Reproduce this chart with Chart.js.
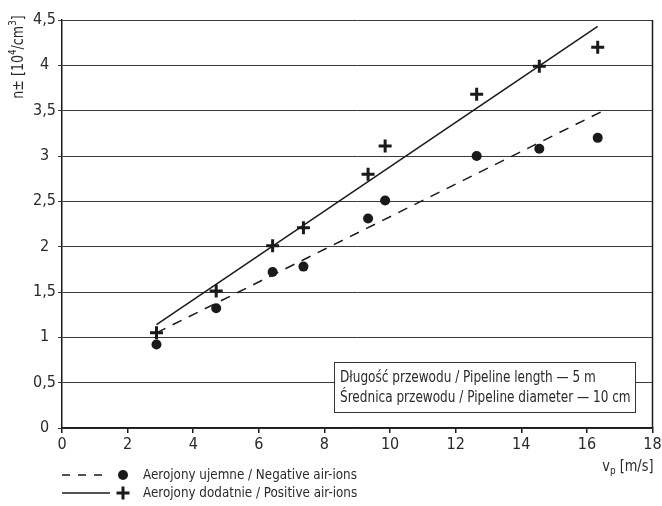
<!DOCTYPE html>
<html><head><meta charset="utf-8">
<script src="https://cdn.jsdelivr.net/npm/chart.js@4.4.1/dist/chart.umd.min.js"></script>
<style>html,body{margin:0;padding:0;background:#fff}#wrap{width:662px;height:506px}</style>
</head><body><div id="wrap"><canvas id="c" width="662" height="506"></canvas></div>
<script>
// ---- data ----
const speed        = [2.88, 4.70, 6.42, 7.36, 9.33, 9.85, 12.64, 14.55, 16.33];
const positiveIons = [1.05, 1.51, 2.01, 2.21, 2.80, 3.11, 3.68, 3.99, 4.20];
const negativeIons = [0.92, 1.32, 1.72, 1.78, 2.31, 2.51, 3.00, 3.08, 3.20];
const positiveFitX = [2.88, 16.33];
const positiveFitY = [1.14, 4.43];
const negativeFitX = [2.88, 16.45];
const negativeFitY = [1.05, 3.49];
const xTicks       = [0, 2, 4, 6, 8, 10, 12, 14, 16, 18];
const yTicks       = [0, 0.5, 1, 1.5, 2, 2.5, 3, 3.5, 4, 4.5];
const yTickLabels  = ['0', '0,5', '1', '1,5', '2', '2,5', '3', '3,5', '4', '4,5'];
const legendLabels = ['Aerojony ujemne / Negative air-ions', 'Aerojony dodatnie / Positive air-ions'];
const noteLines    = ['Długość przewodu / Pipeline length — 5 m', 'Średnica przewodu / Pipeline diameter — 10 cm'];

const FONT = "'Liberation Sans Narrow', 'DejaVu Sans Condensed', Roboto, sans-serif";
const INK = '#1a1a1a';
const TXT = '#2a2a2a';

const pts = (xs, ys) => xs.map((x, i) => ({x: x, y: ys[i]}));

// draw a run of [text, size, dy] pieces, horizontally condensed by sx
function drawRuns(ctx, runs, x, y, sx, align) {
  ctx.save();
  ctx.textAlign = 'left'; ctx.textBaseline = 'middle'; ctx.fillStyle = TXT;
  let w = 0;
  runs.forEach(p => { ctx.font = p[1] + 'px ' + FONT; w += ctx.measureText(p[0]).width; });
  ctx.translate(x, y);
  ctx.scale(sx, 1);
  let cx = align === 'right' ? -w : (align === 'center' ? -w / 2 : 0);
  runs.forEach(p => { ctx.font = p[1] + 'px ' + FONT; ctx.fillText(p[0], cx, p[2]); cx += ctx.measureText(p[0]).width; });
  ctx.restore();
}

const extras = {
  id: 'extras',
  afterDraw(chart) {
    const ctx = chart.ctx, a = chart.chartArea;
    ctx.save();
    // right frame line
    ctx.strokeStyle = INK; ctx.lineWidth = 1.5;
    ctx.beginPath(); ctx.moveTo(a.right, a.top); ctx.lineTo(a.right, a.bottom); ctx.stroke();

    // note box
    const bx = a.left + 272, by = a.top + 342, bw = 301, bh = 50;
    ctx.fillStyle = '#fff';
    ctx.fillRect(bx, by, bw, bh);
    ctx.strokeStyle = '#333'; ctx.lineWidth = 1;
    ctx.strokeRect(bx + 0.5, by + 0.5, bw, bh);
    drawRuns(ctx, [[noteLines[0], 16, 0]], bx + 6, by + 16, 0.84, 'left');
    drawRuns(ctx, [[noteLines[1], 16, 0]], bx + 6, by + 36, 0.84, 'left');

    // y title: n± [10^4/cm^3]
    ctx.save();
    ctx.translate(19, 57); ctx.rotate(-Math.PI / 2);
    drawRuns(ctx, [['n±', 16, 0], [' [10', 16, 0], ['4', 11, -6], ['/cm', 16, 0], ['3', 11, -6], [']', 16, 0]], 0, 0, 0.88, 'center');
    ctx.restore();

    // x title: v_p [m/s]
    drawRuns(ctx, [['v', 16, 0], ['p', 11, 4], [' [m/s]', 16, 0]], a.right + 1, 467, 0.9, 'right');

    // legend
    const rows = [475, 493];
    const dsNeg = chart.data.datasets[2], dsPos = chart.data.datasets[3];
    ctx.strokeStyle = INK; ctx.lineWidth = 1.5;
    ctx.setLineDash([8, 8]);
    ctx.beginPath(); ctx.moveTo(a.left, rows[0]); ctx.lineTo(a.left + 48, rows[0]); ctx.stroke();
    ctx.setLineDash([]);
    ctx.beginPath(); ctx.moveTo(a.left, rows[1]); ctx.lineTo(a.left + 48, rows[1]); ctx.stroke();
    ctx.fillStyle = INK;
    ctx.beginPath(); ctx.arc(a.left + 61, rows[0], dsNeg.pointRadius, 0, Math.PI * 2); ctx.fill();
    ctx.lineWidth = dsPos.pointBorderWidth;
    const r = dsPos.pointRadius;
    ctx.beginPath();
    ctx.moveTo(a.left + 61 - r, rows[1]); ctx.lineTo(a.left + 61 + r, rows[1]);
    ctx.moveTo(a.left + 61, rows[1] - r); ctx.lineTo(a.left + 61, rows[1] + r);
    ctx.stroke();
    drawRuns(ctx, [[legendLabels[0], 14, 0]], a.left + 81, rows[0], 0.95, 'left');
    drawRuns(ctx, [[legendLabels[1], 14, 0]], a.left + 81, rows[1], 0.95, 'left');
    ctx.restore();
  }
};

new Chart(document.getElementById('c'), {
  type: 'scatter',
  data: {
    datasets: [
      { label: 'fit-neg', data: pts(negativeFitX, negativeFitY), showLine: true, borderColor: INK, borderWidth: 1.5,
        borderDash: [10, 8], pointRadius: 0, fill: false, order: 2 },
      { label: 'fit-pos', data: pts(positiveFitX, positiveFitY), showLine: true, borderColor: INK, borderWidth: 1.5,
        pointRadius: 0, fill: false, order: 2 },
      { label: legendLabels[0], data: pts(speed, negativeIons), pointStyle: 'circle', pointRadius: 5,
        backgroundColor: INK, borderColor: INK, pointBorderWidth: 0, order: 1 },
      { label: legendLabels[1], data: pts(speed, positiveIons), pointStyle: 'cross', pointRadius: 6.5,
        borderColor: INK, backgroundColor: INK, pointBorderWidth: 3, order: 1 }
    ]
  },
  options: {
    responsive: false, animation: false, devicePixelRatio: 1,
    layout: { padding: { top: 20, right: 6, left: 0, bottom: 0 } },
    plugins: { legend: { display: false }, tooltip: { enabled: false } },
    scales: {
      x: {
        type: 'linear', min: 0, max: 18,
        afterBuildTicks: s => { s.ticks = xTicks.map(v => ({value: v})); },
        afterFit: s => { s.height = 78; s.paddingLeft = 0; s.paddingRight = 0; },
        grid: { drawOnChartArea: false, drawTicks: true, tickLength: 5, color: INK, lineWidth: 1.5 },
        border: { display: true, color: INK, width: 1.5 },
        ticks: { color: TXT, font: { family: FONT, size: 16 }, padding: 2, maxRotation: 0,
                 callback: (v, i) => String(xTicks[i]) }
      },
      y: {
        type: 'linear', min: 0, max: 4.5,
        afterBuildTicks: s => { s.ticks = yTicks.map(v => ({value: v})); },
        afterFit: s => { s.width = 62; s.paddingTop = 0; s.paddingBottom = 0; },
        grid: { drawOnChartArea: true, drawTicks: true, tickLength: 4, color: '#3a3a3a', lineWidth: 1 },
        border: { display: true, color: INK, width: 1.5 },
        ticks: { color: TXT, font: { family: FONT, size: 16 }, padding: 2, crossAlign: 'center',
                 callback: (v, i) => yTickLabels[i] }
      }
    }
  },
  plugins: [extras]
});
</script>
</body></html>
